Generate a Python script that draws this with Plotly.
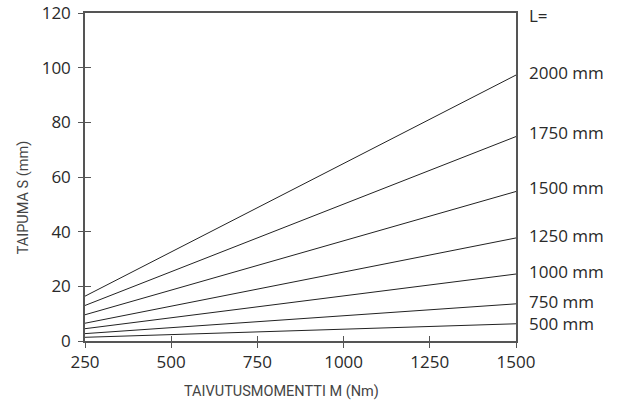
import plotly.graph_objects as go

moment = [250, 1500]
lengths = ["500 mm", "750 mm", "1000 mm", "1250 mm", "1500 mm", "1750 mm", "2000 mm"]
deflection = {
    "500 mm": [1.35, 6.3],
    "750 mm": [2.7, 13.6],
    "1000 mm": [4.5, 24.5],
    "1250 mm": [6.5, 37.7],
    "1500 mm": [9.6, 54.7],
    "1750 mm": [13.0, 74.8],
    "2000 mm": [16.4, 97.3],
}
label_y = {"500 mm": 6.5, "750 mm": 14.5, "1000 mm": 25.4, "1250 mm": 38.6,
           "1500 mm": 56.1, "1750 mm": 76.2, "2000 mm": 98.4}
x_ticks = [250, 500, 750, 1000, 1250, 1500]
y_ticks = [0, 20, 40, 60, 80, 100, 120]

fig = go.Figure()
for L in lengths:
    fig.add_trace(go.Scatter(x=moment, y=deflection[L], mode="lines",
                             line=dict(color="#222222", width=1), showlegend=False,
                             hoverinfo="skip"))
# dummy trace for overlay axes (inside halves of the crossing ticks)
fig.add_trace(go.Scatter(x=[250], y=[0], xaxis="x2", yaxis="y2", mode="markers",
                         marker=dict(opacity=0), showlegend=False, hoverinfo="skip"))

tickfont = dict(family="Open Sans", size=17, color="#2a2a2a")
axcol = "#555555"
fig.update_layout(
    width=620, height=404,
    margin=dict(l=84.5, r=104, t=13, b=62.5),
    plot_bgcolor="white", paper_bgcolor="white",
    xaxis=dict(range=[250, 1500], tickvals=x_ticks, showgrid=False, zeroline=False,
               showline=True, linecolor=axcol, linewidth=1.5, mirror=True,
               ticks="outside", ticklen=5, tickcolor=axcol, tickwidth=1.2,
               tickfont=tickfont, automargin=False),
    yaxis=dict(range=[0, 120], tickvals=y_ticks, showgrid=False, zeroline=False,
               showline=True, linecolor=axcol, linewidth=1.5, mirror=True,
               ticks="outside", ticklen=5, tickcolor=axcol, tickwidth=1.2,
               tickfont=tickfont, ticklabelstandoff=4, automargin=False,
               ticklabeloverflow="allow"),
    xaxis2=dict(range=[250, 1500], tickvals=x_ticks, overlaying="x", showgrid=False,
                zeroline=False, showline=False, ticks="inside", ticklen=5,
                tickcolor=axcol, tickwidth=1.2, showticklabels=False),
    yaxis2=dict(range=[0, 120], tickvals=y_ticks[:-1], overlaying="y", showgrid=False,
                zeroline=False, showline=False, ticks="inside", ticklen=6,
                tickcolor=axcol, tickwidth=1.2, showticklabels=False),
)

labfont = dict(family="Open Sans", size=17, color="#2a2a2a")
for L in lengths:
    fig.add_annotation(x=1500, y=label_y[L], text=L, showarrow=False,
                       xanchor="left", xshift=11, font=labfont)
fig.add_annotation(x=1500, y=120, text="L=", showarrow=False, xanchor="left",
                   xshift=11, yshift=-2, font=labfont)
titlefont = dict(family="Roboto", size=14.5, color="#444444")
fig.add_annotation(xref="paper", yref="paper", x=(23 - 84.5) / 431.5,
                   y=(341.5 - 198) / 328.5, text="TAIPUMA S (mm)", textangle=-90,
                   showarrow=False, xanchor="center", yanchor="middle", font=titlefont)
fig.add_annotation(xref="paper", yref="paper", x=(281.5 - 84.5) / 431.5,
                   y=(341.5 - 392.5) / 328.5, text="TAIVUTUSMOMENTTI M (Nm)",
                   showarrow=False, xanchor="center", yanchor="middle", font=titlefont)

# remove the browser's default 8px body margin so the figure sits at the window origin
fig.write_html("out.html", config={"displayModeBar": False},
               post_script="document.body.style.margin='0px';")
